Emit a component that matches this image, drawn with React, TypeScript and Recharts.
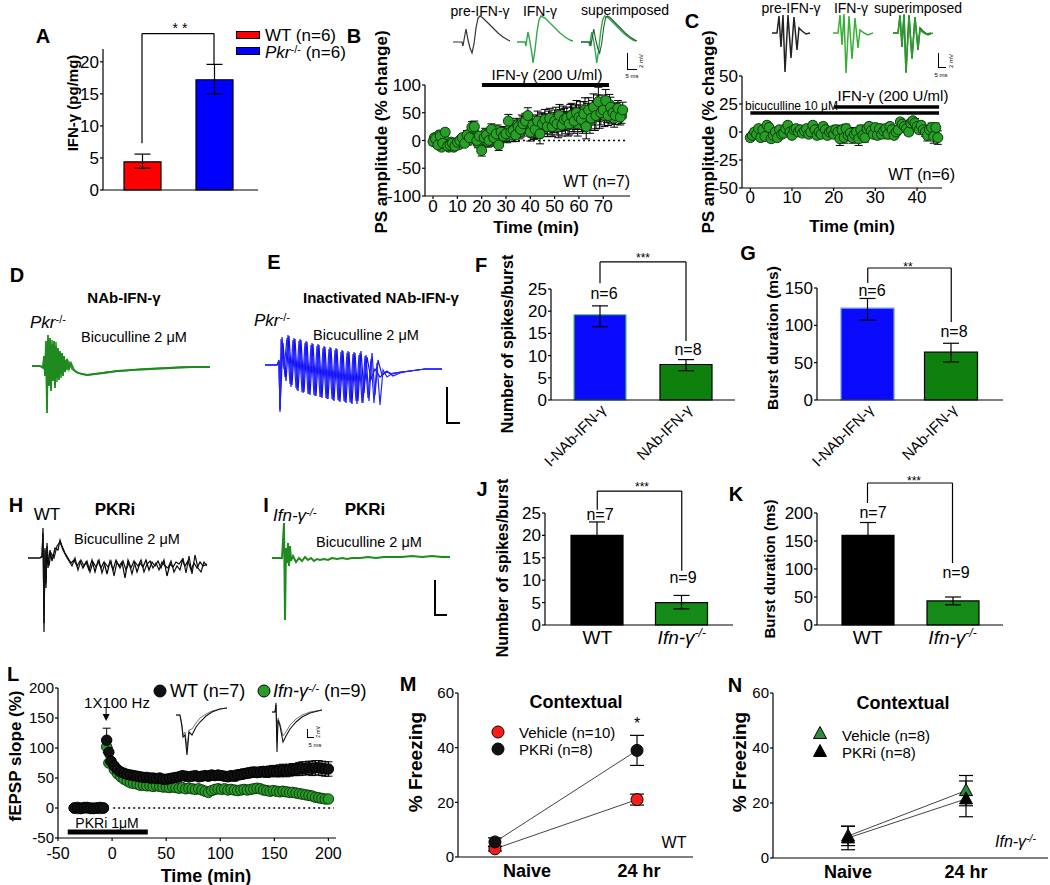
import React from "react";
import {
  Bar,
  BarChart,
  Cell,
  ErrorBar,
  Line,
  LineChart,
  ReferenceDot,
  ReferenceLine,
  Scatter,
  ScatterChart,
  XAxis,
  YAxis,
} from "recharts";

const FONT = '"Liberation Sans", Arial, Helvetica, sans-serif';

// ---------- data ----------

// A: IFN-γ content
const aGroups = ["WT", "Pkr-/-"];
const aValues = [4.4, 17.2];
const aErrors = [[1.0, 1.2], [2.2, 2.4]];

// F / G: NAb experiments
const fgGroups = ["I-NAb-IFN-γ", "NAb-IFN-γ"];
const fSpikes = [19.2, 8.0];
const fSpikesErr = [[2.7, 2.0], [1.4, 1.1]];
const gDuration = [123, 64];
const gDurationErr = [[16, 13], [13, 12]];

// J / K: PKRi experiments
const jkGroups = ["WT", "Ifn-γ-/-"];
const jSpikes = [20, 5];
const jSpikesErr = [[3, 3], [1.4, 1.6]];
const kDuration = [160, 43];
const kDurationErr = [[23, 23], [7, 7]];

// B: PS amplitude, IFN-γ in WT
const bTime = [
  0, 1, 2, 3, 4, 5, 6, 7, 8, 9, 10, 11, 12, 13, 14, 15, 16, 17, 18, 19,
  20, 21, 22, 23, 24, 25, 26, 27, 28, 29, 30, 31, 32, 33, 34, 35, 36, 37, 38, 39,
  40, 41, 42, 43, 44, 45, 46, 47, 48, 49, 50, 51, 52, 53, 54, 55, 56, 57, 58, 59,
  60, 61, 62, 63, 64, 65, 66, 67, 68, 69, 70, 71, 72, 73, 74, 75, 76, 77, 78,
];
const bAmp = [
  -2, 3, -8, 8, -5, 15, -10, -8, -5, -10, -3, 0, 5, -5, 10, 5, 24, 25, 0, 8,
  -18, 5, 10, 0, 20, 5, 12, -8, 15, 8, 12, 35, 15, 18, 10, 25, 20, 30, 35, 45,
  15, 28, 20, 35, 12, 30, 38, 25, 40, 25, 35, 30, 45, 28, 38, 40, 30, 45, 35, 50,
  42, 38, 48, 25, 55, 40, 60, 45, 70, 50, 55, 72, 45, 60, 50, 45, 58, 42, 55,
];
const bErr = [
  6, 6, 6, 6, 6, 6, 6, 6, 6, 6, 6, 6, 6, 6, 8, 8, 10, 10, 8, 8,
  10, 10, 10, 10, 10, 10, 10, 10, 10, 10, 12, 12, 12, 12, 12, 12, 14, 14, 14, 14,
  16, 16, 16, 18, 18, 18, 18, 18, 18, 18, 20, 20, 20, 20, 20, 20, 20, 22, 22, 22,
  22, 22, 22, 22, 22, 22, 24, 24, 26, 22, 20, 20, 18, 18, 16, 16, 14, 14, 14,
];
// second, interleaved set of sweeps in B (half-minute points)
const bTime2 = [
  0.5, 1.5, 2.5, 3.5, 4.5, 5.5, 6.5, 7.5, 8.5, 9.5, 10.5, 11.5, 12.5, 13.5, 14.5, 15.5, 16.5, 17.5, 18.5, 19.5,
  20.5, 21.5, 22.5, 23.5, 24.5, 25.5, 26.5, 27.5, 28.5, 29.5, 30.5, 31.5, 32.5, 33.5, 34.5, 35.5, 36.5, 37.5, 38.5, 39.5,
  40.5, 41.5, 42.5, 43.5, 44.5, 45.5, 46.5, 47.5, 48.5, 49.5, 50.5, 51.5, 52.5, 53.5, 54.5, 55.5, 56.5, 57.5, 58.5, 59.5,
  60.5, 61.5, 62.5, 63.5, 64.5, 65.5, 66.5, 67.5, 68.5, 69.5, 70.5, 71.5, 72.5, 73.5, 74.5, 75.5, 76.5, 77.5,
];
const bAmp2 = [
  5, -4, 10, -12, 2, -8, -12, -3, -12, -6, -8, 2, -3, 8, 0, 12, 18, 5, -5, 3,
  2, 12, -2, 8, 10, 0, 18, 6, 10, 14, 8, 20, 10, 22, 28, 15, 32, 22, 28, 30,
  22, 18, 30, 22, 32, 25, 30, 35, 28, 32, 40, 25, 36, 42, 32, 28, 45, 38, 42, 30,
  48, 35, 55, 45, 35, 50, 42, 58, 48, 60, 45, 52, 65, 48, 40, 52, 48, 45,
];

// C: PS amplitude with bicuculline
const cTime = [
  0, 0.5, 1, 1.5, 2, 2.5, 3, 3.5, 4, 4.5, 5, 5.5, 6, 6.5, 7, 7.5, 8, 8.5, 9, 9.5,
  10, 10.5, 11, 11.5, 12, 12.5, 13, 13.5, 14, 14.5, 15, 15.5, 16, 16.5, 17, 17.5, 18, 18.5, 19, 19.5,
  20, 20.5, 21, 21.5, 22, 22.5, 23, 23.5, 24, 24.5, 25, 25.5, 26, 26.5, 27, 27.5, 28, 28.5, 29, 29.5,
  30, 30.5, 31, 31.5, 32, 32.5, 33, 33.5, 34, 34.5, 35, 35.5, 36, 36.5, 37, 37.5, 38, 38.5, 39, 39.5,
  40, 40.5, 41, 41.5, 42, 42.5, 43, 43.5, 44, 44.5, 45,
];
const cAmp = [
  -5, -3, 0, -2, 3, -5, 2, -4, 6, 4, -6, -3, 0, -5, 2, -2, -1, 3, 6, 0,
  -3, 2, 3, 0, 2, -1, 1, 3, -2, 0, 6, 2, -3, 0, -2, 5, 2, -3, 0, 1,
  -2, 2, 0, -6, 2, -5, 3, -3, -1, -5, -2, 0, -6, 2, -3, -5, 3, 5, 1, -2,
  4, -3, 3, -2, 1, 3, -2, 5, 2, -3, 0, 2, 9, 7, 5, 3, 0, 8, 10, 8,
  5, 2, 6, 2, 0, -3, 2, 4, -4, 4, -5,
];
const cErr = [
  3, 3, 3, 3, 3, 3, 3, 3, 3, 3, 3, 3, 3, 3, 3, 3, 3, 3, 3, 3,
  3, 3, 3, 3, 3, 3, 3, 3, 3, 3, 3, 3, 3, 3, 3, 3, 3, 3, 3, 3,
  3, 4, 5, 6, 4, 5, 4, 5, 4, 5, 6, 4, 6, 4, 5, 4, 3, 3, 3, 3,
  3, 3, 4, 3, 3, 3, 4, 3, 3, 3, 3, 3, 3, 3, 4, 3, 3, 3, 3, 4,
  3, 3, 3, 3, 4, 5, 4, 4, 6, 4, 6,
];

// L: fEPSP slope
const lTime = [
  -35, -32, -29, -26, -23, -20, -17, -14, -11, -8,
  -5, -3, -1, 2, 5, 8, 11, 14, 17, 20,
  23, 26, 29, 32, 35, 38, 41, 44, 47, 50,
  53, 56, 59, 62, 65, 68, 71, 74, 77, 80,
  83, 86, 89, 92, 95, 98, 101, 104, 107, 110,
  113, 116, 119, 122, 125, 128, 131, 134, 137, 140,
  143, 146, 149, 152, 155, 158, 161, 164, 167, 170,
  173, 176, 179, 182, 185, 188, 191, 194, 197, 200,
];
const lWt = [
  0, 1, -1, 0, 1, 0, -1, 0, 1, 0,
  113, 93, 78, 70, 64, 60, 58, 56, 55, 54,
  53, 52, 51, 51, 50, 50, 49, 50, 48, 48,
  49, 50, 51, 52, 54, 53, 52, 53, 54, 52,
  53, 54, 53, 55, 54, 55, 54, 53, 52, 54,
  53, 55, 56, 57, 58, 59, 60, 59, 60, 61,
  60, 61, 62, 61, 62, 63, 62, 63, 64, 64,
  65, 66, 66, 67, 66, 67, 67, 66, 65, 65,
];
const lWtErr = [
  2, 2, 2, 2, 2, 2, 2, 2, 2, 2,
  20, 8, 6, 5, 5, 5, 5, 5, 5, 5,
  5, 5, 5, 5, 5, 5, 5, 5, 5, 5,
  6, 6, 6, 6, 6, 6, 6, 6, 6, 6,
  7, 7, 7, 7, 7, 7, 7, 7, 7, 7,
  8, 8, 8, 8, 8, 8, 8, 8, 8, 8,
  9, 9, 9, 9, 10, 10, 10, 10, 10, 10,
  11, 11, 11, 11, 12, 12, 12, 12, 12, 12,
];
const lKo = [
  0, -1, 0, 1, 0, -1, 0, 0, -1, 0,
  102, 75, 77, 64, 57, 52, 48, 45, 42, 41,
  40, 38, 38, 37, 37, 36, 37, 36, 35, 35,
  34, 35, 34, 33, 34, 32, 33, 32, 31, 32,
  30, 28, 26, 29, 31, 32, 31, 32, 30, 31,
  30, 29, 30, 31, 30, 31, 32, 33, 32, 30,
  29, 28, 29, 28, 27, 28, 27, 26, 26, 25,
  24, 23, 22, 21, 20, 18, 17, 16, 15, 15,
];
const lKoErr = [
  2, 2, 2, 2, 2, 2, 2, 2, 2, 2,
  5, 4, 3, 3, 3, 3, 3, 3, 3, 3,
  3, 3, 3, 3, 3, 3, 3, 3, 3, 3,
  3, 3, 3, 3, 3, 3, 3, 3, 3, 3,
  3, 3, 3, 3, 3, 3, 3, 3, 3, 3,
  3, 3, 3, 3, 3, 3, 3, 3, 3, 3,
  3, 3, 3, 3, 3, 3, 3, 3, 3, 3,
  3, 3, 3, 3, 3, 3, 3, 3, 3, 3,
];

// M / N: contextual freezing
const stageX = [0, 1];
const stageLabels = ["Naive", "24 hr"];
const mVehicle = [3, 21];
const mVehicleErr = [0.8, 2];
const mPkri = [5.5, 39];
const mPkriErr = [1.5, 5.5];
const nVehicle = [8, 24.5];
const nVehicleErr = [3.5, 5.5];
const nPkri = [7.3, 21.5];
const nPkriErr = [4.3, 6.5];

// example sweeps [time, voltage]
const traceD = [[0,0],[8,0],[11,-2],[12,10],[13,-10],[14,25],[15,-47],[16,31],[17,-20],[18,28],[19,-25],[20,22],[21,-15],[22,25],[23,-22],[24,20],[25,-12],[26,18],[27,-14],[28,15],[29,-8],[30,13],[31,-10],[32,10],[33,-6],[35,7],[37,-3],[39,3],[42,-4],[46,-7],[50,-8],[55,-9],[62,-8],[72,-7],[85,-5],[100,-4],[120,-3],[140,-2],[160,-1],[178,-1]];
const traceD2 = [[0,0],[8,0],[11,-1],[12,8],[13,-6],[14,20],[15,-40],[16,26],[17,-12],[18,24],[19,-18],[20,26],[21,-10],[22,20],[23,-18],[24,24],[25,-16],[26,14],[27,-10],[28,12],[29,-12],[30,9],[31,-6],[33,6],[35,-4],[37,4],[40,-3],[44,-6],[50,-8],[56,-9],[64,-8],[75,-6],[90,-5],[110,-3],[130,-2],[150,-1],[178,-1]];
const traceE1 = [[0,0],[12,0],[14,5],[15,-47],[17,28],[20,-12],[23,30],[26,-22],[29,27],[32,-25],[35,26],[38,-28],[41,24],[44,-29],[47,22],[50,-31],[53,21],[56,-32],[59,19],[62,-34],[65,18],[68,-35],[71,17],[74,-36],[77,15],[80,-37],[83,14],[86,-38],[89,13],[92,-39],[95,12],[98,-38],[101,10],[104,-36],[107,12],[110,-30],[113,5],[117,-10],[122,-6],[128,-11],[135,-8],[145,-6],[160,-4],[177,-4]];
const traceE2 = [[0,0],[12,0],[14,3],[15,-44],[18,22],[21,-16],[24,29],[27,-20],[30,26],[33,-26],[36,25],[39,-27],[42,23],[45,-30],[48,21],[51,-31],[54,20],[57,-33],[60,18],[63,-34],[66,17],[69,-36],[72,16],[75,-37],[78,14],[81,-38],[84,13],[87,-39],[90,12],[93,-36],[96,14],[99,-28],[102,8],[106,-14],[110,-4],[115,-12],[121,-7],[128,-9],[136,-7],[145,-6],[160,-4],[177,-4]];
const traceE3 = [[0,0],[12,0],[14,4],[15,-45],[16,26],[19,-4],[22,27],[25,-19],[28,25],[31,-23],[34,24],[37,-27],[40,22],[43,-29],[46,20],[49,-30],[52,19],[55,-32],[58,17],[61,-33],[64,16],[67,-34],[70,15],[73,-35],[76,13],[79,-36],[82,12],[85,-37],[88,11],[91,-36],[94,10],[97,-38],[100,9],[103,-33],[106,6],[109,-38],[112,2],[115,-40],[118,-5],[122,-12],[128,-8],[136,-7],[145,-6],[160,-4],[177,-4]];
const traceH1 = [[0,0],[12,0],[14,2],[15,30],[16,-74],[17,10],[18,-30],[19,15],[20,-10],[22,8],[24,-3],[27,10],[30,8],[32,18],[34,12],[37,5],[40,0],[43,-5],[46,-2],[49,-8],[52,-3],[55,-10],[58,-4],[61,-12],[64,-2],[67,-14],[70,-3],[73,-10],[76,-4],[79,-16],[82,-3],[85,-12],[88,-2],[91,-8],[94,-4],[97,-20],[100,-2],[103,-10],[106,-3],[109,-14],[112,-5],[115,-9],[118,-2],[121,-12],[124,-4],[127,-8],[130,-3],[133,-10],[136,-2],[139,-18],[142,-6],[145,-9],[148,-4],[151,-6],[154,-2],[157,-8],[160,-3],[163,-12],[166,-5],[169,-10],[172,-4],[175,-8],[179,-6]];
const traceH2 = [[0,0],[12,0],[14,1],[15,25],[16,-65],[17,8],[18,-25],[19,12],[21,-8],[23,5],[26,0],[29,12],[32,16],[35,8],[38,2],[41,-3],[44,-8],[47,0],[50,-12],[53,-2],[56,-8],[59,-3],[62,-14],[65,-4],[68,-9],[71,-2],[74,-15],[77,-5],[80,-9],[83,-3],[86,-18],[89,-4],[92,-10],[95,-3],[98,-12],[101,-5],[104,-16],[107,-4],[110,-8],[113,-2],[116,-14],[119,-6],[122,-3],[125,-10],[128,-5],[131,-12],[134,-4],[137,-8],[140,-10],[143,-3],[146,-14],[149,-8],[152,-12],[155,0],[158,-15],[161,2],[164,-16],[167,3],[170,-10],[173,-14],[176,-4],[179,-8]];
const traceI = [[0,0],[10,0],[12,35],[13,-62],[14,10],[15,-5],[16,15],[17,-8],[18,12],[19,-3],[21,2],[24,-4],[27,0],[30,-3],[33,1],[36,-2],[39,0],[42,-3],[45,-1],[48,-2],[52,-1],[56,-2],[60,0],[65,-1],[70,0],[75,-1],[80,0],[88,0],[96,1],[104,0],[112,1],[120,1],[130,1],[140,2],[150,1],[160,2],[170,1],[178,1]];
const bPre = [[0,0],[9,0],[10,-4],[11,2],[13,13],[15,2],[17,-6],[19,-11],[21,-2],[23,14],[25,24],[27,26],[30,24],[35,19],[40,14],[45,9],[50,5],[55,2],[57,1]];
const bIfn = [[0,0],[8,0],[9,-4],[10,4],[11,10],[13,0],[15,-12],[16,-21],[18,-8],[20,10],[22,22],[24,26],[28,24],[33,19],[38,14],[43,9],[48,5],[53,2],[56,1]];
const cPre = [[0,0],[5,0],[7,17],[9,-14],[11,18],[13,-39],[16,18],[19,-25],[22,16],[25,-17],[27,5],[30,2],[34,-1],[38,0]];
const cIfn = [[0,0],[5,0],[7,18],[9,-12],[11,19],[13,-40],[16,17],[19,-26],[22,15],[25,-15],[27,3],[31,0],[35,-2],[40,0]];
const lInsetA1 = [[0,0],[4,0],[6,-12],[7,-22],[9,-20],[11,-40],[13,-17],[16,-20],[20,-12],[24,-7],[30,-1],[36,3],[44,6],[51,7]];
const lInsetA2 = [[0,0],[4,0],[6,-10],[7,-20],[9,-17],[11,-33],[13,-15],[16,-14],[20,-8],[24,-3],[30,1],[36,4],[44,6],[51,7]];
const lInsetB1 = [[0,0],[3,0],[4,9],[5,-40],[6,-8],[8,-14],[11,-30],[14,-24],[18,-17],[24,-10],[30,-5],[38,-1],[50,2]];
const lInsetB2 = [[0,0],[3,0],[4,7],[5,-30],[6,-6],[8,-12],[11,-24],[14,-20],[18,-13],[24,-7],[30,-3],[38,0],[50,2]];

// ---------- helpers ----------

type Box = { x0: number; x1: number; y0: number; y1: number };

const AX = { stroke: "#000", strokeWidth: 1.2 };
const tickFont = (size: number) => ({ fill: "#000", fontSize: size, fontFamily: FONT });

// place a chart so that its plot area lands exactly on the box
function frame(b: Box, L: number, R: number, T: number, B: number) {
  return {
    style: { position: "absolute" as const, left: b.x0 - L, top: b.y0 - T },
    width: b.x1 - b.x0 + L + R,
    height: b.y1 - b.y0 + T + B,
    margin: { top: T, right: R, bottom: 0, left: 0 },
    yw: L,
    xh: B,
  };
}

const pts = (a: number[][]) => a.map(([t, v]) => ({ t, v }));

function bracket(g1: string, g2: string, top: number, left: number, right: number) {
  const st = { stroke: "#000", strokeWidth: 1.2, ifOverflow: "visible" as const };
  return [
    <ReferenceLine key="bl" segment={[{ x: g1, y: left }, { x: g1, y: top }]} {...st} />,
    <ReferenceLine key="bt" segment={[{ x: g1, y: top }, { x: g2, y: top }]} {...st} />,
    <ReferenceLine key="br" segment={[{ x: g2, y: top }, { x: g2, y: right }]} {...st} />,
  ];
}

function Tx({ x, y, s = 16, b, i, a = "middle", r, children }: {
  x: number; y: number; s?: number; b?: boolean; i?: boolean; a?: string; r?: number; children: React.ReactNode;
}) {
  const tx = a === "middle" ? "-50%" : a === "end" ? "-100%" : "0%";
  return (
    <div
      style={{
        position: "absolute",
        left: x,
        top: y,
        transform: `translate(${tx}, -50%)` + (r ? ` rotate(${r}deg)` : ""),
        fontSize: s,
        fontWeight: b ? 700 : 400,
        fontStyle: i ? "italic" : "normal",
        lineHeight: 1,
        whiteSpace: "nowrap",
      }}
    >
      {children}
    </div>
  );
}

const Sup = ({ children }: { children: React.ReactNode }) => (
  <span style={{ fontSize: "0.65em", verticalAlign: "0.45em" }}>{children}</span>
);

function Mark({ x, y, kind, fill }: { x: number; y: number; kind: "c" | "t"; fill: string }) {
  return (
    <svg style={{ position: "absolute", left: x - 8, top: y - 8 }} width={16} height={16}>
      {kind === "c" ? (
        <circle cx={8} cy={8} r={6} fill={fill} stroke="#000" strokeWidth={1} />
      ) : (
        <path d="M8,1.5 L14.5,13.5 L1.5,13.5 Z" fill={fill} stroke="#000" strokeWidth={1} />
      )}
    </svg>
  );
}

function ScaleL({ x, y, w, h, lw }: { x: number; y: number; w: number; h: number; lw: number }) {
  return (
    <div
      style={{
        position: "absolute",
        left: x,
        top: y,
        width: w,
        height: h,
        borderLeft: `${lw}px solid #000`,
        borderBottom: `${lw}px solid #000`,
        boxSizing: "border-box",
      }}
    />
  );
}

type Sweep = { data: number[][]; color: string; width?: number };

function Trace({ box, xd, yd, sweeps }: { box: Box; xd: [number, number]; yd: [number, number]; sweeps: Sweep[] }) {
  return (
    <div style={{ position: "absolute", left: box.x0, top: box.y0 }}>
      <LineChart width={box.x1 - box.x0} height={box.y1 - box.y0} margin={{ top: 0, right: 0, bottom: 0, left: 0 }}>
        <XAxis type="number" dataKey="t" domain={xd} hide />
        <YAxis type="number" domain={yd} hide />
        {sweeps.map((s, i) => (
          <Line
            key={i}
            data={pts(s.data)}
            dataKey="v"
            type="linear"
            dot={false}
            stroke={s.color}
            strokeWidth={s.width ?? 1.4}
            isAnimationActive={false}
          />
        ))}
      </LineChart>
    </div>
  );
}

function RotTick(props: any) {
  const { x, y, payload } = props;
  const ax = x + 7;
  const ay = y + 9;
  return (
    <text x={ax} y={ay} transform={`rotate(-45 ${ax} ${ay})`} textAnchor="end" fontSize={15} fontFamily={FONT} fill="#000">
      {payload.value}
    </text>
  );
}

function GenoTick(props: any) {
  const { x, y, payload } = props;
  if (payload.value === "WT") {
    return (
      <text x={x} y={y + 17} textAnchor="middle" fontSize={19} fontFamily={FONT} fill="#000">
        WT
      </text>
    );
  }
  return (
    <text x={x} y={y + 17} textAnchor="middle" fontSize={19} fontFamily={FONT} fontStyle="italic" fill="#000">
      <tspan>Ifn-γ</tspan>
      <tspan fontSize={12} dy={-7}>-/-</tspan>
    </text>
  );
}

function StageTick(props: any) {
  const { x, y, payload, shifts } = props;
  const k = stageX.indexOf(payload.value);
  return (
    <text x={x + shifts[k]} y={y + 18} textAnchor="middle" fontSize={18} fontWeight={700} fontFamily={FONT} fill="#000">
      {stageLabels[k]}
    </text>
  );
}

const greenDot = (p: any) => <circle cx={p.cx} cy={p.cy} r={5} fill="#28a028" stroke="#0b3a0b" strokeWidth={1} />;
const blackDot = (p: any) => <circle cx={p.cx} cy={p.cy} r={5.2} fill="#111" stroke="#000" strokeWidth={1} />;
const lGreenDot = (p: any) => <circle cx={p.cx} cy={p.cy} r={5.2} fill="#2a9a2a" stroke="#0b3a0b" strokeWidth={1} />;

// ---------- bar panels ----------

type BarSpec = {
  box: Box;
  groups: string[];
  values: number[];
  errors: number[][];
  fills: string[];
  strokes: string[];
  domain: [number, number];
  ticks: number[];
  pad: { left: number; right: number };
  size: number;
  br: [number, number, number] | null;
  tick: any;
  T: number;
  B: number;
};

function BarPanel({ spec }: { spec: BarSpec }) {
  const f = frame(spec.box, 60, 12, spec.T, spec.B);
  const data = spec.groups.map((g, i) => ({ g, v: spec.values[i], e: spec.errors[i] }));
  return (
    <div style={f.style}>
      <BarChart width={f.width} height={f.height} margin={f.margin} data={data}>
        <XAxis
          dataKey="g"
          height={f.xh}
          tick={spec.tick}
          tickLine={false}
          tickSize={0}
          axisLine={AX}
          padding={spec.pad}
          interval={0}
        />
        <YAxis
          width={f.yw}
          domain={spec.domain}
          ticks={spec.ticks}
          interval={0}
          tick={tickFont(17)}
          tickSize={3}
          tickMargin={1}
          tickLine={AX}
          axisLine={AX}
        />
        <Bar dataKey="v" barSize={spec.size} strokeWidth={1.2} isAnimationActive={false}>
          {data.map((d, i) => (
            <Cell key={d.g} fill={spec.fills[i]} stroke={spec.strokes[i]} />
          ))}
          <ErrorBar dataKey="e" direction="y" width={8} stroke="#000" strokeWidth={1.2} />
        </Bar>
        {spec.br ? bracket(spec.groups[0], spec.groups[1], spec.br[0], spec.br[1], spec.br[2]) : null}
      </BarChart>
    </div>
  );
}

const specA: BarSpec = {
  box: { x0: 103, x1: 258, y0: 49, y1: 190 },
  groups: aGroups, values: aValues, errors: aErrors,
  fills: ["#ff0000", "#0000ff"], strokes: ["#000", "#000"],
  domain: [0, 22], ticks: [0, 5, 10, 15, 20],
  pad: { left: 3, right: 8 }, size: 37, br: [24.4, 7.3, 19.5], tick: false, T: 30, B: 10,
};
const specF: BarSpec = {
  box: { x0: 551, x1: 735, y0: 289, y1: 400 },
  groups: fgGroups, values: fSpikes, errors: fSpikesErr,
  fills: ["#0a0aff", "#0d800d"], strokes: ["#4cc84c", "#000"],
  domain: [0, 25], ticks: [0, 5, 10, 15, 20, 25],
  pad: { left: 6, right: 6 }, size: 52, br: [31.1, 26.3, 13.3], tick: <RotTick />, T: 35, B: 90,
};
const specG: BarSpec = {
  box: { x0: 817, x1: 1003, y0: 288, y1: 400 },
  groups: fgGroups, values: gDuration, errors: gDurationErr,
  fills: ["#0a0aff", "#0d800d"], strokes: ["#6f9cff", "#000"],
  domain: [0, 150], ticks: [0, 50, 100, 150],
  pad: { left: 9, right: 10 }, size: 53, br: [176.8, 156.7, 104.5], tick: <RotTick />, T: 30, B: 90,
};
const specJ: BarSpec = {
  box: { x0: 545, x1: 733, y0: 513, y1: 625 },
  groups: jkGroups, values: jSpikes, errors: jSpikesErr,
  fills: ["#000", "#168a16"], strokes: ["#000", "#000"],
  domain: [0, 25], ticks: [0, 5, 10, 15, 20, 25],
  pad: { left: 10, right: 9 }, size: 52, br: [29.9, 25.7, 12.1], tick: <GenoTick />, T: 30, B: 30,
};
const specK: BarSpec = {
  box: { x0: 817, x1: 1003, y0: 513, y1: 625 },
  groups: jkGroups, values: kDuration, errors: kDurationErr,
  fills: ["#000", "#168a16"], strokes: ["#000", "#000"],
  domain: [0, 200], ticks: [0, 50, 100, 150, 200],
  pad: { left: 8, right: 8 }, size: 52, br: [253.6, 217.9, 110.7], tick: <GenoTick />, T: 40, B: 30,
};

// ---------- time-course panels ----------

function PanelB() {
  const f = frame({ x0: 425, x1: 630, y0: 85, y1: 196 }, 50, 10, 10, 30);
  const data = bTime.map((t, i) => ({ t, v: bAmp[i], e: bErr[i] }));
  const data2 = bTime2.map((t, i) => ({ t, v: bAmp2[i], e: bErr[i] }));
  return (
    <div style={f.style}>
      <ScatterChart width={f.width} height={f.height} margin={f.margin}>
        <XAxis type="number" dataKey="t" domain={[-3.3, 81]} ticks={[0, 10, 20, 30, 40, 50, 60, 70]} interval={0}
          height={f.xh} tick={tickFont(17)} tickSize={3} tickMargin={1} tickLine={AX} axisLine={AX} />
        <YAxis type="number" dataKey="v" domain={[-100, 100]} ticks={[-100, -50, 0, 50, 100]} interval={0}
          width={f.yw} tick={tickFont(17)} tickSize={3} tickMargin={1} tickLine={AX} axisLine={AX} />
        <ReferenceLine segment={[{ x: 0, y: 0 }, { x: 80, y: 0 }]} stroke="#000" strokeWidth={1.3} strokeDasharray="2 3" />
        <ReferenceLine segment={[{ x: 20.1, y: 100 }, { x: 72.4, y: 100 }]} stroke="#000" strokeWidth={4} ifOverflow="visible" />
        <Scatter data={data2} shape={greenDot} isAnimationActive={false}>
          <ErrorBar dataKey="e" direction="y" width={4} stroke="#000" strokeWidth={1} />
        </Scatter>
        <Scatter data={data} shape={greenDot} isAnimationActive={false}>
          <ErrorBar dataKey="e" direction="y" width={4} stroke="#000" strokeWidth={1} />
        </Scatter>
      </ScatterChart>
    </div>
  );
}

function PanelC() {
  const f = frame({ x0: 742, x1: 942, y0: 76, y1: 188 }, 50, 10, 10, 30);
  const data = cTime.map((t, i) => ({ t, v: cAmp[i], e: cErr[i] }));
  return (
    <div style={f.style}>
      <ScatterChart width={f.width} height={f.height} margin={f.margin}>
        <XAxis type="number" dataKey="t" domain={[-2, 46]} ticks={[0, 10, 20, 30, 40]} interval={0}
          height={f.xh} tick={tickFont(17)} tickSize={3} tickMargin={0} tickLine={AX} axisLine={AX} />
        <YAxis type="number" dataKey="v" domain={[-50, 50]} ticks={[-50, -25, 0, 25, 50]} interval={0}
          width={f.yw} tick={tickFont(17)} tickSize={3} tickMargin={1} tickLine={AX} axisLine={AX} />
        <ReferenceLine segment={[{ x: 0, y: 17 }, { x: 45.3, y: 17 }]} stroke="#000" strokeWidth={3.5} />
        <ReferenceLine segment={[{ x: 20.1, y: 22.3 }, { x: 45.3, y: 22.3 }]} stroke="#000" strokeWidth={3.5} />
        <Scatter data={data} shape={greenDot} isAnimationActive={false}>
          <ErrorBar dataKey="e" direction="y" width={4} stroke="#000" strokeWidth={1} />
        </Scatter>
      </ScatterChart>
    </div>
  );
}

function PanelL() {
  const f = frame({ x0: 58, x1: 336, y0: 688, y1: 838 }, 50, 10, 10, 30);
  const wt = lTime.map((t, i) => ({ t, v: lWt[i], e: lWtErr[i] }));
  const ko = lTime.map((t, i) => ({ t, v: lKo[i], e: lKoErr[i] }));
  const arrowHead = (p: any) => (
    <path d={`M${p.cx - 3.5},${p.cy - 7} L${p.cx + 3.5},${p.cy - 7} L${p.cx},${p.cy} Z`} fill="#000" />
  );
  return (
    <div style={f.style}>
      <ScatterChart width={f.width} height={f.height} margin={f.margin}>
        <XAxis type="number" dataKey="t" domain={[-50, 207]} ticks={[-50, 0, 50, 100, 150, 200]} interval={0}
          height={f.xh} tick={tickFont(16)} tickSize={3} tickMargin={7} tickLine={AX} axisLine={AX} />
        <YAxis type="number" dataKey="v" domain={[-50, 200]} ticks={[-50, 0, 50, 100, 150, 200]} interval={0}
          width={f.yw} tick={tickFont(15)} tickSize={3} tickMargin={1} tickLine={AX} axisLine={AX} />
        <ReferenceLine segment={[{ x: 1, y: 0 }, { x: 205, y: 0 }]} stroke="#000" strokeWidth={1.3} strokeDasharray="2 3" />
        <ReferenceLine segment={[{ x: -41, y: -40 }, { x: 33, y: -40 }]} stroke="#000" strokeWidth={5} />
        <ReferenceLine segment={[{ x: -5.5, y: 168 }, { x: -5.5, y: 150 }]} stroke="#000" strokeWidth={1} />
        <ReferenceDot x={-5.5} y={145} r={3} shape={arrowHead} ifOverflow="visible" />
        <Scatter data={ko} shape={lGreenDot} isAnimationActive={false}>
          <ErrorBar dataKey="e" direction="y" width={3} stroke="#000" strokeWidth={1} />
        </Scatter>
        <Scatter data={wt} shape={blackDot} isAnimationActive={false}>
          <ErrorBar dataKey="e" direction="y" width={4} stroke="#000" strokeWidth={1} />
        </Scatter>
      </ScatterChart>
    </div>
  );
}

// ---------- freezing panels ----------

function FreezePanel({ box, xd, shifts, series }: {
  box: Box; xd: [number, number]; shifts: number[];
  series: { vals: number[]; errs: number[]; fill: string; tri: boolean }[];
}) {
  const f = frame(box, 50, 10, 10, 30);
  return (
    <div style={f.style}>
      <LineChart width={f.width} height={f.height} margin={f.margin}>
        <XAxis type="number" dataKey="x" domain={xd} ticks={stageX} interval={0} height={f.xh}
          tick={<StageTick shifts={shifts} />} tickLine={false} tickSize={0} axisLine={AX} />
        <YAxis type="number" domain={[0, 60]} ticks={[0, 20, 40, 60]} interval={0} width={f.yw}
          tick={tickFont(15)} tickSize={3} tickMargin={1} tickLine={AX} axisLine={AX} />
        {series.map((s, k) => (
          <Line
            key={k}
            data={stageX.map((x, i) => ({ x, v: s.vals[i], e: s.errs[i] }))}
            dataKey="v"
            type="linear"
            stroke="#444"
            strokeWidth={1}
            isAnimationActive={false}
            dot={(p: any) =>
              s.tri ? (
                <path key={p.index} d={`M${p.cx},${p.cy - 7} L${p.cx + 6.5},${p.cy + 5} L${p.cx - 6.5},${p.cy + 5} Z`}
                  fill={s.fill} stroke="#000" strokeWidth={1} />
              ) : (
                <circle key={p.index} cx={p.cx} cy={p.cy} r={6} fill={s.fill} stroke="#000" strokeWidth={1} />
              )
            }
          >
            <ErrorBar dataKey="e" direction="y" width={7} stroke="#000" strokeWidth={1.2} />
          </Line>
        ))}
      </LineChart>
    </div>
  );
}

// ---------- page ----------

export default function App() {
  return (
    <div
      style={{
        position: "absolute",
        left: 0,
        top: 0,
        width: 1050,
        height: 885,
        background: "#fff",
        fontFamily: FONT,
        color: "#000",
        overflow: "hidden",
      }}
    >
      {/* A */}
      <BarPanel spec={specA} />
      <Tx x={43} y={36} s={20} b>A</Tx>
      <Tx x={180} y={28} s={14}>* *</Tx>
      <div style={{ position: "absolute", left: 236, top: 31, width: 24, height: 8, background: "#ff0000", border: "1px solid #000", boxSizing: "border-box" }} />
      <div style={{ position: "absolute", left: 236, top: 47, width: 24, height: 8, background: "#0000ff", border: "1px solid #000", boxSizing: "border-box" }} />
      <Tx x={265} y={35} s={17} a="start">WT (n=6)</Tx>
      <Tx x={265} y={52} s={17} a="start"><i>Pkr</i><Sup>-/-</Sup> (n=6)</Tx>
      <Tx x={72} y={103} s={15} b r={-90}>IFN-γ (pg/mg)</Tx>

      {/* B */}
      <PanelB />
      <Tx x={354} y={36} s={20} b>B</Tx>
      <Tx x={480} y={11} s={14}>pre-IFN-γ</Tx>
      <Tx x={540} y={11} s={14}>IFN-γ</Tx>
      <Tx x={625} y={10} s={14}>superimposed</Tx>
      <Trace box={{ x0: 453, x1: 510, y0: 14, y1: 65 }} xd={[0, 57]} yd={[-23, 28]} sweeps={[{ data: bPre, color: "#333", width: 1.2 }]} />
      <Trace box={{ x0: 517, x1: 573, y0: 14, y1: 65 }} xd={[0, 56]} yd={[-23, 28]} sweeps={[{ data: bIfn, color: "#2ea84a", width: 1.4 }]} />
      <Trace box={{ x0: 581, x1: 637, y0: 14, y1: 65 }} xd={[0, 56]} yd={[-23, 28]}
        sweeps={[{ data: bIfn, color: "#2ea84a", width: 1.4 }, { data: bPre, color: "#1d5f2c", width: 1.1 }]} />
      <ScaleL x={627} y={53} w={10} h={17} lw={1.5} />
      <Tx x={641} y={61} s={6} r={-90}>2 mV</Tx>
      <Tx x={632} y={76} s={6}>5 ms</Tx>
      <Tx x={547} y={74} s={15}>IFN-γ (200 U/ml)</Tx>
      <Tx x={630} y={182} s={16} a="end">WT (n=7)</Tx>
      <Tx x={536} y={227} s={17} b>Time (min)</Tx>
      <Tx x={381} y={132} s={17} b r={-90}>PS amplitude (% change)</Tx>

      {/* C */}
      <PanelC />
      <Tx x={692} y={21} s={20} b>C</Tx>
      <Tx x={791} y={8} s={14}>pre-IFN-γ</Tx>
      <Tx x={851} y={8} s={14}>IFN-γ</Tx>
      <Tx x={918} y={8} s={14}>superimposed</Tx>
      <Trace box={{ x0: 772, x1: 810, y0: 13, y1: 75 }} xd={[0, 38]} yd={[-42, 20]} sweeps={[{ data: cPre, color: "#222", width: 1.5 }]} />
      <Trace box={{ x0: 833, x1: 873, y0: 13, y1: 75 }} xd={[0, 40]} yd={[-42, 20]} sweeps={[{ data: cIfn, color: "#36b036", width: 1.5 }]} />
      <Trace box={{ x0: 893, x1: 933, y0: 13, y1: 75 }} xd={[0, 40]} yd={[-42, 20]}
        sweeps={[{ data: cPre, color: "#1f6e1f", width: 1.5 }, { data: cIfn, color: "#2a9a2a", width: 1.5 }]} />
      <ScaleL x={938} y={53} w={8} h={15} lw={1.5} />
      <Tx x={951} y={61} s={6} r={-90}>2 mV</Tx>
      <Tx x={941} y={75} s={6}>5 ms</Tx>
      <Tx x={745} y={106} s={12} a="start">bicuculline 10 μM</Tx>
      <Tx x={893} y={95} s={15}>IFN-γ (200 U/ml)</Tx>
      <Tx x={955} y={175} s={16} a="end">WT (n=6)</Tx>
      <Tx x={852} y={226} s={17} b>Time (min)</Tx>
      <Tx x={708} y={132} s={17} b r={-90}>PS amplitude (% change)</Tx>

      {/* D */}
      <Tx x={17} y={275} s={20} b>D</Tx>
      <Tx x={124} y={297} s={15} b>NAb-IFN-γ</Tx>
      <Tx x={30} y={322} s={17} a="start"><i>Pkr</i><Sup>-/-</Sup></Tx>
      <Tx x={81} y={337} s={14.5} a="start">Bicuculline 2 μM</Tx>
      <Trace box={{ x0: 32, x1: 210, y0: 331, y1: 416 }} xd={[0, 178]} yd={[-50, 35]}
        sweeps={[{ data: traceD2, color: "#2a8f2a", width: 1.5 }, { data: traceD, color: "#1f8a1f", width: 1.8 }]} />

      {/* E */}
      <Tx x={274} y={262} s={20} b>E</Tx>
      <Tx x={303} y={297} s={15} b a="start">Inactivated NAb-IFN-γ</Tx>
      <Tx x={254} y={320} s={17} a="start"><i>Pkr</i><Sup>-/-</Sup></Tx>
      <Tx x={313} y={335} s={14.5} a="start">Bicuculline 2 μM</Tx>
      <Trace box={{ x0: 265, x1: 442, y0: 330, y1: 415 }} xd={[0, 177]} yd={[-50, 35]}
        sweeps={[
          { data: traceE1, color: "#1a1aff", width: 1.2 },
          { data: traceE2, color: "#1010f0", width: 1.2 },
          { data: traceE3, color: "#2424ff", width: 1.2 },
        ]} />
      <ScaleL x={446} y={387} w={14} h={37} lw={2} />

      {/* F, G */}
      <BarPanel spec={specF} />
      <Tx x={481} y={265} s={20} b>F</Tx>
      <Tx x={643} y={258} s={12}>***</Tx>
      <Tx x={604} y={294} s={16}>n=6</Tx>
      <Tx x={688} y={350} s={16}>n=8</Tx>
      <Tx x={508} y={344} s={16} b r={-90}>Number of spikes/burst</Tx>
      <BarPanel spec={specG} />
      <Tx x={748} y={253} s={20} b>G</Tx>
      <Tx x={908} y={267} s={12}>**</Tx>
      <Tx x={872} y={291} s={16}>n=6</Tx>
      <Tx x={954} y={332} s={16}>n=8</Tx>
      <Tx x={773} y={338} s={15.5} b r={-90}>Burst duration (ms)</Tx>

      {/* H */}
      <Tx x={16} y={505} s={20} b>H</Tx>
      <Tx x={47} y={514} s={17}>WT</Tx>
      <Tx x={115} y={509} s={17} b>PKRi</Tx>
      <Tx x={74} y={539} s={14.5} a="start">Bicuculline 2 μM</Tx>
      <Trace box={{ x0: 28, x1: 207, y0: 523, y1: 636 }} xd={[0, 179]} yd={[-78, 35]}
        sweeps={[
          { data: traceH1, color: "#000", width: 1.2 },
          { data: traceH2, color: "#111", width: 1.2 },
        ]} />

      {/* I */}
      <Tx x={266} y={505} s={20} b>I</Tx>
      <Tx x={273} y={515} s={17} a="start" i>Ifn-γ<Sup>-/-</Sup></Tx>
      <Tx x={365} y={509} s={17} b>PKRi</Tx>
      <Tx x={316} y={542} s={14.5} a="start">Bicuculline 2 μM</Tx>
      <Trace box={{ x0: 272, x1: 450, y0: 518, y1: 623 }} xd={[0, 178]} yd={[-65, 40]} sweeps={[{ data: traceI, color: "#1f8a1f", width: 2 }]} />
      <ScaleL x={434} y={580} w={13} h={36} lw={2} />

      {/* J, K */}
      <BarPanel spec={specJ} />
      <Tx x={482} y={489} s={20} b>J</Tx>
      <Tx x={642} y={487} s={12}>***</Tx>
      <Tx x={600} y={515} s={16}>n=7</Tx>
      <Tx x={683} y={578} s={16}>n=9</Tx>
      <Tx x={503} y={568} s={16} b r={-90}>Number of spikes/burst</Tx>
      <BarPanel spec={specK} />
      <Tx x={736} y={494} s={20} b>K</Tx>
      <Tx x={914} y={481} s={12}>***</Tx>
      <Tx x={873} y={513} s={16}>n=7</Tx>
      <Tx x={956} y={573} s={16}>n=9</Tx>
      <Tx x={769} y={569} s={15} b r={-90}>Burst duration (ms)</Tx>

      {/* L */}
      <PanelL />
      <Tx x={13} y={674} s={20} b>L</Tx>
      <Tx x={117} y={702} s={15}>1X100 Hz</Tx>
      <Tx x={107} y={823} s={14}>PKRi 1μM</Tx>
      <Mark x={160} y={691} kind="c" fill="#111" />
      <Tx x={170} y={691} s={18} a="start">WT (n=7)</Tx>
      <Mark x={264} y={691} kind="c" fill="#2a9a2a" />
      <Tx x={273} y={691} s={18} a="start"><i>Ifn-γ</i><Sup><i>-/-</i></Sup> (n=9)</Tx>
      <Trace box={{ x0: 176, x1: 227, y0: 705, y1: 757 }} xd={[0, 51]} yd={[-42, 10]}
        sweeps={[{ data: lInsetA2, color: "#777", width: 1 }, { data: lInsetA1, color: "#111", width: 1.1 }]} />
      <Trace box={{ x0: 272, x1: 322, y0: 700, y1: 754 }} xd={[0, 50]} yd={[-42, 12]}
        sweeps={[{ data: lInsetB2, color: "#777", width: 1 }, { data: lInsetB1, color: "#111", width: 1.1 }]} />
      <ScaleL x={307} y={729} w={7} h={9} lw={1.3} />
      <Tx x={318} y={732} s={5} r={-90}>2 mV</Tx>
      <Tx x={315} y={745} s={6}>5 ms</Tx>
      <Tx x={206} y={876} s={18} b>Time (min)</Tx>
      <Tx x={15} y={756} s={17} b r={-90}>fEPSP slope (%)</Tx>

      {/* M */}
      <FreezePanel
        box={{ x0: 458, x1: 693, y0: 693, y1: 857 }}
        xd={[-0.26, 1.394]}
        shifts={[32, 2]}
        series={[
          { vals: mVehicle, errs: mVehicleErr, fill: "#ff1a1a", tri: false },
          { vals: mPkri, errs: mPkriErr, fill: "#111", tri: false },
        ]}
      />
      <Tx x={408} y={684} s={20} b>M</Tx>
      <Tx x={576} y={702} s={18} b>Contextual</Tx>
      <Tx x={637} y={724} s={16}>*</Tx>
      <Mark x={498} y={732} kind="c" fill="#ff1a1a" />
      <Tx x={519} y={732} s={15} a="start">Vehicle (n=10)</Tx>
      <Mark x={498} y={749} kind="c" fill="#111" />
      <Tx x={519} y={749} s={15} a="start">PKRi (n=8)</Tx>
      <Tx x={674} y={843} s={16}>WT</Tx>
      <Tx x={415} y={762} s={19} b r={-90}>% Freezing</Tx>

      {/* N */}
      <FreezePanel
        box={{ x0: 773, x1: 1048, y0: 693, y1: 858 }}
        xd={[-0.636, 1.695]}
        shifts={[0, 0]}
        series={[
          { vals: nVehicle, errs: nVehicleErr, fill: "#2e8b3a", tri: true },
          { vals: nPkri, errs: nPkriErr, fill: "#000", tri: true },
        ]}
      />
      <Tx x={735} y={685} s={20} b>N</Tx>
      <Tx x={903} y={703} s={18} b>Contextual</Tx>
      <Mark x={820} y={733} kind="t" fill="#2e8b3a" />
      <Tx x={842} y={735} s={15} a="start">Vehicle (n=8)</Tx>
      <Mark x={820} y={751} kind="t" fill="#000" />
      <Tx x={842} y={752} s={15} a="start">PKRi (n=8)</Tx>
      <Tx x={995} y={842} s={16} a="start" i>Ifn-γ<Sup>-/-</Sup></Tx>
      <Tx x={739} y={762} s={19} b r={-90}>% Freezing</Tx>
    </div>
  );
}
